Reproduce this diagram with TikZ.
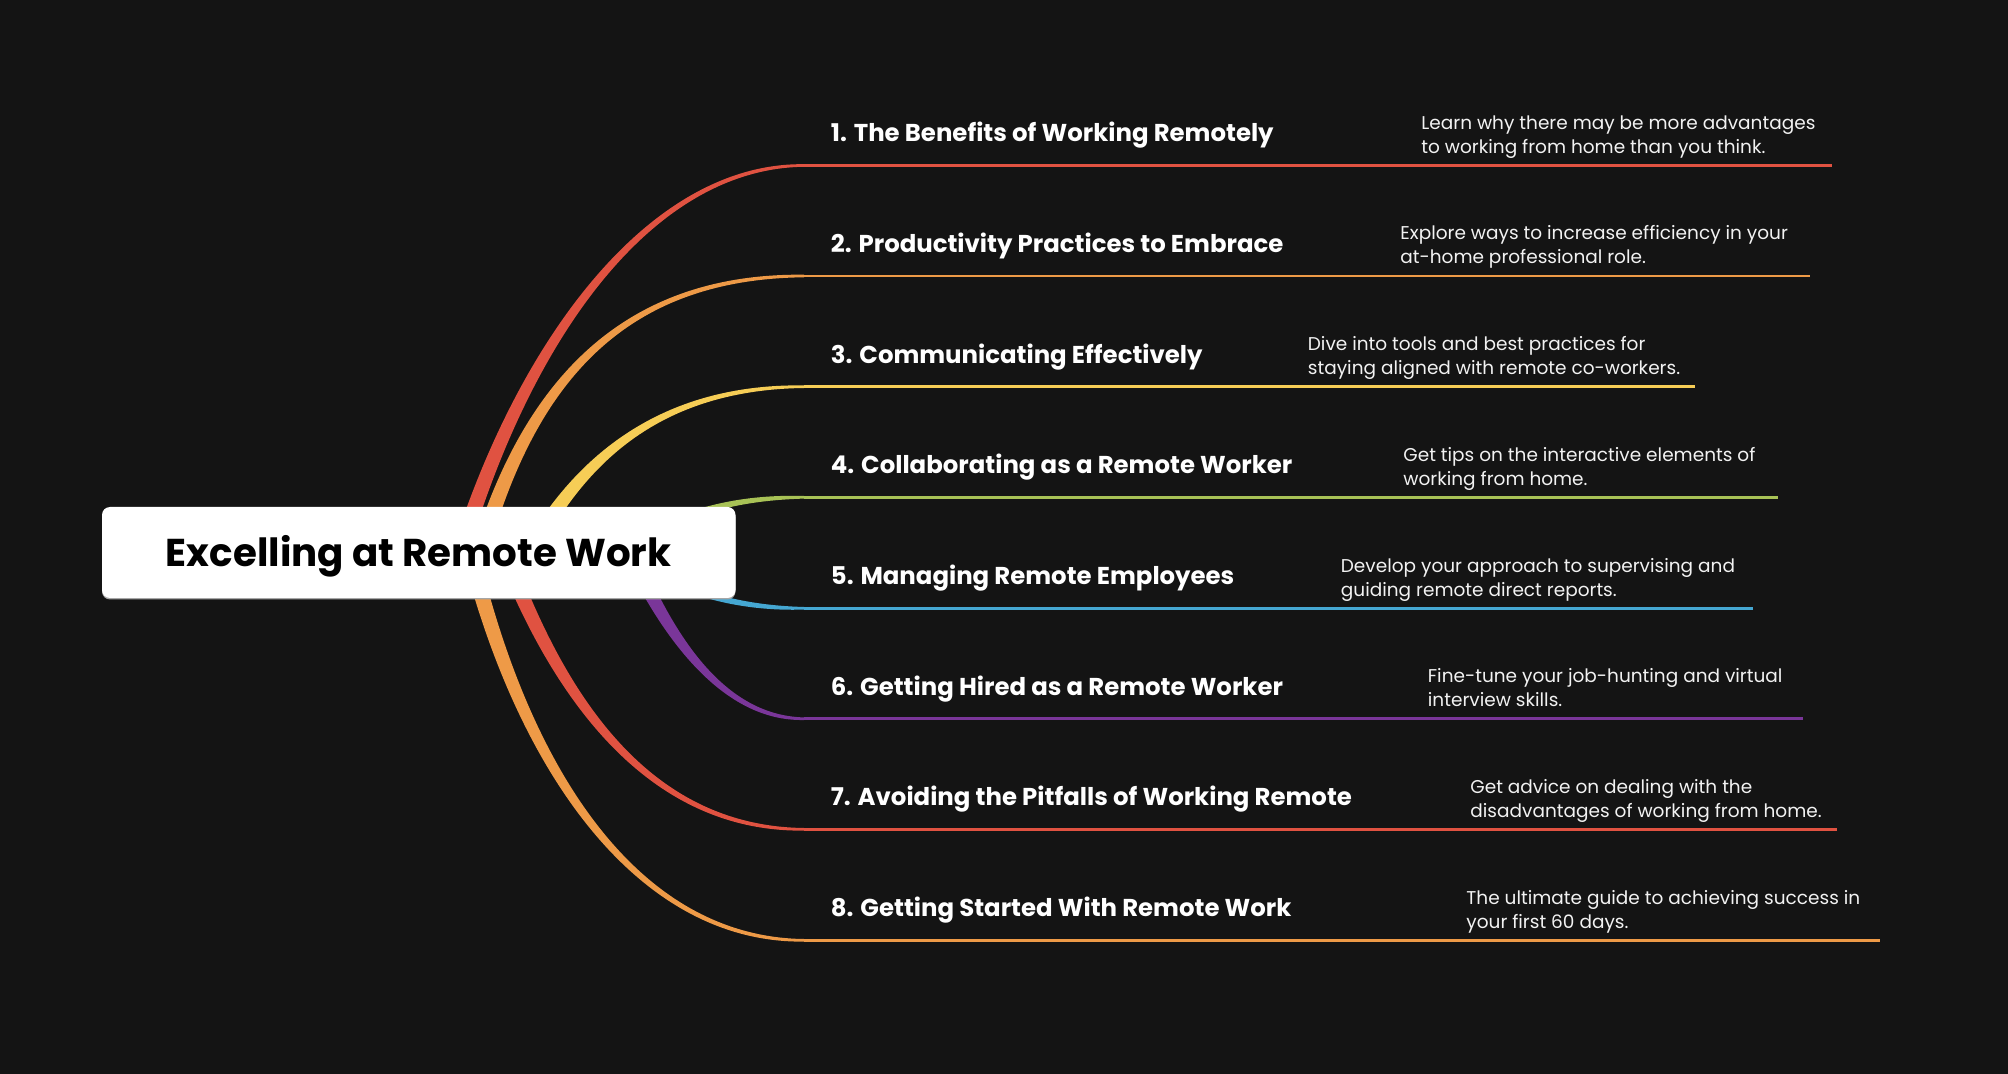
\documentclass[tikz,border=0pt]{standalone}
\usepackage{fontspec}
\setmainfont{Poppins}
\usetikzlibrary{calc}
\definecolor{bg}{HTML}{141414}
\definecolor{cred}{HTML}{E05241}
\definecolor{corange}{HTML}{EE9A47}
\definecolor{cyellow}{HTML}{F6CD56}
\definecolor{cgreen}{HTML}{A8C256}
\definecolor{cblue}{HTML}{45A7D2}
\definecolor{cpurple}{HTML}{7A3699}
\definecolor{desctext}{HTML}{F2F2F2}
\newcommand\branch[8]{%
  \coordinate (s#2) at (#3,552);
  \coordinate (ca#2) at (#4);
  \coordinate (cb#2) at (#5,#6);
  \coordinate (k#2) at (804,#6);
  \coordinate (e#2) at (#7,#6);
  \fill[#1] ($(s#2)!#8!90:(ca#2)$) .. controls ($(ca#2)!0.75*#8!-90:(s#2)$) and ($(cb#2)!1.6pt!90:(k#2)$) .. ($(k#2)!0.65pt!-90:(cb#2)$)
     -- ($(k#2)!0.65pt!90:(cb#2)$) .. controls ($(cb#2)!1.6pt!-90:(k#2)$) and ($(ca#2)!0.75*#8!90:(s#2)$) .. ($(s#2)!#8!-90:(ca#2)$) -- cycle;
  \draw[#1, hline] (k#2) -- (e#2);
}
\newcommand\twolines[2]{\vtop{\baselineskip=12pt\hbox{#1}\hbox{#2}}}
\begin{document}
\begin{tikzpicture}[x=0.5pt,y=-0.5pt,
  hline/.style={line width=1.25pt},
  rootbox/.style={fill=white, rounded corners=4pt, minimum width=316.75pt, minimum height=45.5pt, inner sep=0pt,
     font=\fontsize{19.4}{24}\selectfont\bfseries, text=black, text height=13.6pt, text depth=0pt},
  topic/.style={anchor=base west, inner sep=0pt, text=white, font=\fontsize{12.2}{14}\selectfont\bfseries},
  desc/.style={anchor=base west, inner sep=0pt, text=desctext, font=\fontsize{9.25}{12}\selectfont}]
\fill[bg] (0,0) rectangle (2008,1074);
\useasboundingbox (0,0) rectangle (2008,1074);
% branches
\branch{cred}{1}{460}{525,340}{650}{165.5}{1831.6}{4pt}
\branch{corange}{2}{480}{530,380}{625}{276}{1810}{4pt}
\branch{cyellow}{3}{530}{580,460}{660}{386.7}{1694.8}{4pt}
\branch{cgreen}{4}{620}{680,510}{740}{497.3}{1778}{2.4pt}
\branch{cblue}{5}{620}{680,594}{740}{608.3}{1753}{2.4pt}
\branch{cpurple}{6}{630}{665,630}{720}{718.7}{1803}{4pt}
\branch{cred}{7}{504}{560,700}{650}{829.3}{1837}{4pt}
\branch{corange}{8}{470}{525,775}{640}{940.3}{1880}{4pt}
% root
\fill[gray!70] (102,509) [rounded corners=4pt] rectangle (735.5,599.5);
\node[rootbox] (root) at (418.75,552.5) {Excelling at Remote Work};
% topics
\node[topic] (t1) at (830.5,142) {1. The Benefits of Working Remotely};
\node[topic] (t2) at (830.5,252.5) {2. Productivity Practices to Embrace};
\node[topic] (t3) at (830.5,363.2) {3. Communicating Effectively};
\node[topic] (t4) at (830.5,473.8) {4. Collaborating as a Remote Worker};
\node[topic] (t5) at (830.5,584.8) {5. Managing Remote Employees};
\node[topic] (t6) at (830.5,695.2) {6. Getting Hired as a Remote Worker};
\node[topic] (t7) at (830.5,805.8) {7. Avoiding the Pitfalls of Working Remote};
\node[topic] (t8) at (830.5,916.8) {8. Getting Started With Remote Work};
% descriptions
\node[desc] (d1) at (1421,129.3) {\twolines{Learn why there may be more advantages}{to working from home than you think.}};
\node[desc] (d2) at (1400,240) {\twolines{Explore ways to increase efficiency in your}{at-home professional role.}};
\node[desc] (d3) at (1307.5,350.5) {\twolines{Dive into tools and best practices for}{staying aligned with remote co-workers.}};
\node[desc] (d4) at (1403,461.1) {\twolines{Get tips on the interactive elements of}{working from home.}};
\node[desc] (d5) at (1340.5,572.1) {\twolines{Develop your approach to supervising and}{guiding remote direct reports.}};
\node[desc] (d6) at (1427.5,682.5) {\twolines{Fine-tune your job-hunting and virtual}{interview skills.}};
\node[desc] (d7) at (1470,793.1) {\twolines{Get advice on dealing with the}{disadvantages of working from home.}};
\node[desc] (d8) at (1466,904.1) {\twolines{The ultimate guide to achieving success in}{your first 60 days.}};
\end{tikzpicture}
\end{document}
